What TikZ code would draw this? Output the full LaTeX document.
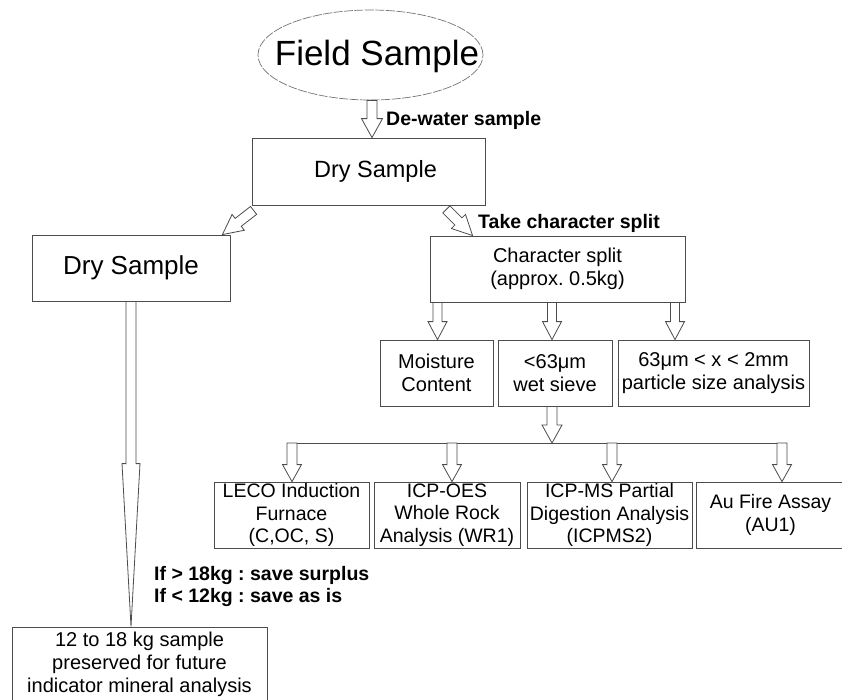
\documentclass[tikz,border=0pt]{standalone}
\usepackage{fontspec}
\setmainfont{Liberation Sans}
\usetikzlibrary{calc,shapes.geometric}
\frenchspacing
\definecolor{lc}{gray}{0.3}
\newcommand\fs[2]{\fontsize{#1}{#2}\selectfont}
% hollow arrow: #1 start, #2 tip, #3 head length, #4 shaft half width, #5 head half width
\newcommand\harrow[5]{%
  \path ($(#2)!#3!(#1)$) coordinate (hb);
  \filldraw[arr] ($(#1)!#4!90:(#2)$) -- ($(hb)!#4!-90:(#1)$) -- ($(hb)!#5!-90:(#1)$) -- (#2)
    -- ($(hb)!#5!90:(#1)$) -- ($(hb)!#4!90:(#1)$) -- ($(#1)!#4!-90:(#2)$) -- cycle;
}
\begin{document}
\begin{tikzpicture}[x=1pt,y=-1pt,
  box/.style={draw=lc, line width=0.8pt, inner sep=0pt, align=center, minimum height=66pt, font=\fs{20}{23}},
  sb/.style={font=\fs{19.5}{22.4}},
  lbl/.style={inner sep=0pt, font=\bfseries\fs{19.5}{22}},
  arr/.style={fill=white, draw=lc, line width=0.8pt, line join=miter},
  conn/.style={draw=lc, line width=0.8pt}]
\useasboundingbox (0,0) rectangle (842,699);

% nodes
\node[ellipse, draw=black!55, dash pattern=on 9pt off 1.5pt, line width=0.7pt,
      minimum width=225pt, minimum height=90pt, inner sep=0pt] (field) at (370.5,55) {};
\node[inner sep=0pt, font=\fs{35}{40}] (fieldtxt) at (377,56) {Field Sample};
\node[box, minimum width=233pt, minimum height=67pt, font=\fs{23.5}{27}] (dry1) at (368.5,171.5) {\hspace*{14pt}Dry Sample};
\node[box, minimum width=198pt, font=\fs{26}{30}] (dry2) at (131,268) {Dry Sample};
\node[box, minimum width=255pt] (cs) at (557.5,269) {Character split\\(approx. 0.5kg)};
\node[box, minimum width=113pt] (moist) at (436.5,373) {Moisture\\Content};
\node[box, minimum width=114pt] (wet) at (555,373) {<63μm\\wet sieve};
\node[box, minimum width=191pt] (part) at (713.5,373) {63μm < x < 2mm\\particle size analysis};
\node[box, sb, minimum width=155pt] (leco) at (291.5,515) {LECO Induction\\Furnace\\(C,OC, S)};
\node[box, sb, minimum width=146pt] (oes) at (447,515) {ICP-OES\\Whole Rock\\Analysis (WR1)};
\node[box, sb, minimum width=165pt] (ms) at (609.5,515) {ICP-MS Partial\\Digestion Analysis\\(ICPMS2)};
\node[box, sb, minimum width=149pt] (au) at (770.5,515) {Au Fire Assay\\(AU1)};
\node[box, minimum width=255pt, minimum height=75pt] (pres) at (139.5,664.5) {12 to 18 kg sample\\preserved for future\\indicator mineral analysis};

% labels
\node[lbl, anchor=west] (dew) at (386,120) {De-water sample};
\node[lbl, anchor=west] (take) at (478,223) {Take character split};
\node[lbl, anchor=west, align=left] (ifs) at (154,586) {If > 18kg : save surplus\\If < 12kg : save as is};

% arrow end points
\coordinate (a0s) at (372,0 |- field.south);
\coordinate (a0t) at (372,0 |- dry1.north);
\coordinate (a1s) at ($(dry1.south west)+(2,5)$);
\coordinate (a1t) at ($(dry2.north east)+(-8,0)$);
\coordinate (a2s) at ($(dry1.south east)+(-39,4)$);
\coordinate (a2t) at ($(cs.north west)+(43,0)$);
\coordinate (b1s) at (437.5,0 |- cs.south);
\coordinate (b1t) at (437.5,0 |- moist.north);
\coordinate (b2s) at (552,0 |- cs.south);
\coordinate (b2t) at (552,0 |- wet.north);
\coordinate (b3s) at (675,0 |- cs.south);
\coordinate (b3t) at (675,0 |- part.north);
\coordinate (c0s) at (552,0 |- wet.south);
\coordinate (c0t) at (552,443);
\coordinate (busL) at (287,443);
\coordinate (busR) at (787,443);
\coordinate (d1s) at (292,443);
\coordinate (d1t) at (292,0 |- leco.north);
\coordinate (d2s) at (452,443);
\coordinate (d2t) at (452,0 |- oes.north);
\coordinate (d3s) at (612,443);
\coordinate (d3t) at (612,0 |- ms.north);
\coordinate (d4s) at (782,443);
\coordinate (d4t) at (782,0 |- au.north);
\coordinate (ls) at (131,0 |- dry2.south);
\coordinate (lt) at (131,0 |- pres.north);

% connectors
\harrow{a0s}{a0t}{19pt}{5pt}{10.5pt}
\harrow{a1s}{a1t}{20pt}{5pt}{10pt}
\harrow{a2s}{a2t}{20pt}{5pt}{10pt}
\harrow{b1s}{b1t}{18pt}{4.5pt}{9.5pt}
\harrow{b2s}{b2t}{18pt}{4.5pt}{9.5pt}
\harrow{b3s}{b3t}{18pt}{4.5pt}{9.5pt}
\harrow{c0s}{c0t}{18pt}{5pt}{10pt}
\draw[conn] (busL) -- (busR);
\harrow{d1s}{d1t}{17pt}{5pt}{9.5pt}
\harrow{d2s}{d2t}{17pt}{5pt}{9.5pt}
\harrow{d3s}{d3t}{17pt}{5pt}{9.5pt}
\harrow{d4s}{d4t}{17pt}{5pt}{9.5pt}
\harrow{ls}{lt}{163pt}{5pt}{9pt}
\end{tikzpicture}
\end{document}
